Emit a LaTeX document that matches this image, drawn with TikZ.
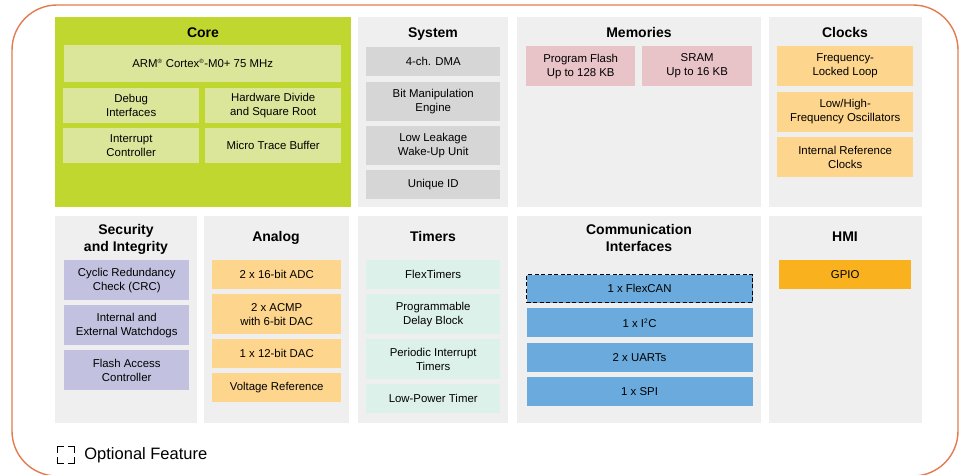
\documentclass[tikz,border=0pt]{standalone}
\usepackage{fontspec}
\setmainfont{Liberation Sans}
\usepackage{xcolor}
\usetikzlibrary{positioning}

\definecolor{frameorange}{HTML}{E27B4F}
\definecolor{panelgray}{HTML}{EFEFEF}
\definecolor{coregreen}{HTML}{C0D72F}
\definecolor{corebox}{HTML}{DCE69B}
\definecolor{sysgray}{HTML}{D6D6D6}
\definecolor{mempink}{HTML}{E8C3C8}
\definecolor{clockyellow}{HTML}{FDD58C}
\definecolor{seclav}{HTML}{C2C2E0}
\definecolor{timermint}{HTML}{DDF1EB}
\definecolor{commblue}{HTML}{6AAADC}
\definecolor{gpioorange}{HTML}{F9B21D}

\begin{document}
\begin{tikzpicture}[x=1pt,y=-1pt]
	\tikzstyle{panel}=[fill=panelgray, anchor=north west, inner sep=0pt, minimum width=150pt]
	\tikzstyle{blk}=[anchor=north west, inner sep=0pt, align=center, font=\fontsize{11.4}{14}\selectfont]
	\tikzstyle{title}=[align=center, inner sep=0pt, anchor=base, font=\bfseries\fontsize{14}{16.5}\selectfont]
	\useasboundingbox (0,0) rectangle (961,474);
	\draw[frameorange, line width=1.4pt, rounded corners=45pt] (12,5) rectangle (958,476);

	% top row
	\node[panel, fill=coregreen, minimum width=296pt, minimum height=190pt] (core) at (55,17) {};
	\node[panel, minimum height=190pt] (system) at (358,17) {};
	\node[panel, minimum width=244pt, minimum height=190pt] (memories) at (517,17) {};
	\node[panel, minimum width=153pt, minimum height=190pt] (clocks) at (769,17) {};
	% bottom row
	\node[panel, minimum width=142pt, minimum height=207pt] (security) at (55,216) {};
	\node[panel, minimum width=145pt, minimum height=207pt] (analog) at (204,216) {};
	\node[panel, minimum height=207pt] (timers) at (358,216) {};
	\node[panel, minimum width=244pt, minimum height=207pt] (comm) at (517,216) {};
	\node[panel, minimum width=153pt, minimum height=207pt] (hmi) at (769,216) {};

	% titles (base = last line)
	\node[title] (coret) at (203,37) {Core};
	\node[title] (systemt) at (433,37) {System};
	\node[title] (memoriest) at (639,37) {Memories};
	\node[title] (clockst) at (845,37) {Clocks};
	\node[title] (securityt) at (126,251) {Security\\and Integrity};
	\node[title] (analogt) at (276,241) {Analog};
	\node[title] (timerst) at (433,241) {Timers};
	\node[title] (commt) at (639,251) {Communication\\Interfaces};
	\node[title] (hmit) at (845,241) {HMI};

	% core
	\node[blk, fill=corebox, minimum width=277pt, minimum height=37pt] (arm) at (64,45) {ARM\textsuperscript{\fontsize{6}{6}\selectfont ®} Cortex\textsuperscript{\fontsize{6}{6}\selectfont ®}-M0+ 75 MHz};
	\node[blk, fill=corebox, minimum width=136pt, minimum height=35pt] (debug) at (63,88) {Debug\\Interfaces};
	\node[blk, fill=corebox, minimum width=136pt, minimum height=35pt] (hwdiv) at (205,88) {Hardware Divide\\and Square Root};
	\node[blk, fill=corebox, minimum width=136pt, minimum height=35pt] (intc) at (63,128) {Interrupt\\Controller};
	\node[blk, fill=corebox, minimum width=136pt, minimum height=35pt] (mtb) at (205,128) {Micro Trace Buffer};

	% system
	\node[blk, fill=sysgray, minimum width=134pt, minimum height=29pt] (dma) at (366,47) {4-ch. DMA};
	\node[blk, fill=sysgray, minimum width=134pt, minimum height=39pt, below=5pt of dma] (bme) {Bit Manipulation\\Engine};
	\node[blk, fill=sysgray, minimum width=134pt, minimum height=39pt, below=5pt of bme] (llwu) {Low Leakage\\Wake-Up Unit};
	\node[blk, fill=sysgray, minimum width=134pt, minimum height=29pt, below=5pt of llwu] (uid) {Unique ID};

	% memories
	\node[blk, fill=mempink, minimum width=109pt, minimum height=40pt] (flash) at (526,46) {Program Flash\\Up to 128 KB};
	\node[blk, fill=mempink, minimum width=110pt, minimum height=40pt] (sram) at (642,46) {SRAM\\Up to 16 KB};

	% clocks
	\node[blk, fill=clockyellow, minimum width=136pt, minimum height=40pt] (fll) at (777,46) {Frequency-\\Locked Loop};
	\node[blk, fill=clockyellow, minimum width=136pt, minimum height=40pt, below=5pt of fll] (osc) {Low/High-\\Frequency Oscillators};
	\node[blk, fill=clockyellow, minimum width=136pt, minimum height=40pt, below=5pt of osc] (irc) {Internal Reference\\Clocks};

	% security and integrity
	\node[blk, fill=seclav, minimum width=125pt, minimum height=40pt] (crc) at (64,260) {Cyclic Redundancy\\Check (CRC)};
	\node[blk, fill=seclav, minimum width=125pt, minimum height=40pt, below=4.5pt of crc] (wdog) {Internal and\\External Watchdogs};
	\node[blk, fill=seclav, minimum width=125pt, minimum height=40pt, below=4.5pt of wdog] (fac) {Flash Access\\Controller};

	% analog
	\node[blk, fill=clockyellow, minimum width=129pt, minimum height=29pt] (adc) at (212,260) {2 x 16-bit ADC};
	\node[blk, fill=clockyellow, minimum width=129pt, minimum height=40pt, below=4.5pt of adc] (acmp) {2 x ACMP\\with 6-bit DAC};
	\node[blk, fill=clockyellow, minimum width=129pt, minimum height=29pt, below=4.5pt of acmp] (dac) {1 x 12-bit DAC};
	\node[blk, fill=clockyellow, minimum width=129pt, minimum height=29pt, below=4.5pt of dac] (vref) {Voltage Reference};

	% timers
	\node[blk, fill=timermint, minimum width=134pt, minimum height=29pt] (ftm) at (366,260) {FlexTimers};
	\node[blk, fill=timermint, minimum width=134pt, minimum height=40pt, below=4.5pt of ftm] (pdb) {Programmable\\Delay Block};
	\node[blk, fill=timermint, minimum width=134pt, minimum height=40pt, below=4.5pt of pdb] (pit) {Periodic Interrupt\\Timers};
	\node[blk, fill=timermint, minimum width=134pt, minimum height=29pt, below=4.5pt of pit] (lptmr) {Low-Power Timer};

	% communication interfaces
	\node[blk, fill=commblue, draw=black, line width=1.1pt, dash pattern=on 4pt off 2.5pt, minimum width=226pt, minimum height=28pt] (can) at (526,274) {1 x FlexCAN};
	\node[blk, fill=commblue, minimum width=226pt, minimum height=29pt, below=5pt of can] (iic) {1 x I\textsuperscript{\fontsize{6.5}{6.5}\selectfont 2}C};
	\node[blk, fill=commblue, minimum width=226pt, minimum height=29pt, below=5pt of iic] (uart) {2 x UARTs};
	\node[blk, fill=commblue, minimum width=226pt, minimum height=29pt, below=5pt of uart] (spi) {1 x SPI};

	% hmi
	\node[blk, fill=gpioorange, minimum width=132pt, minimum height=29pt] (gpio) at (779,260) {GPIO};

	% legend
	\node[draw=black, line width=1.2pt, dash pattern=on 13pt off 4pt, dash phase=6.5pt, inner sep=0pt, minimum size=17pt, anchor=north west] (optbox) at (57,446) {};
	\node[inner sep=0pt, right=9pt of optbox, font=\fontsize{16.5}{20}\selectfont] (optlbl) {Optional Feature};
\end{tikzpicture}
\end{document}
